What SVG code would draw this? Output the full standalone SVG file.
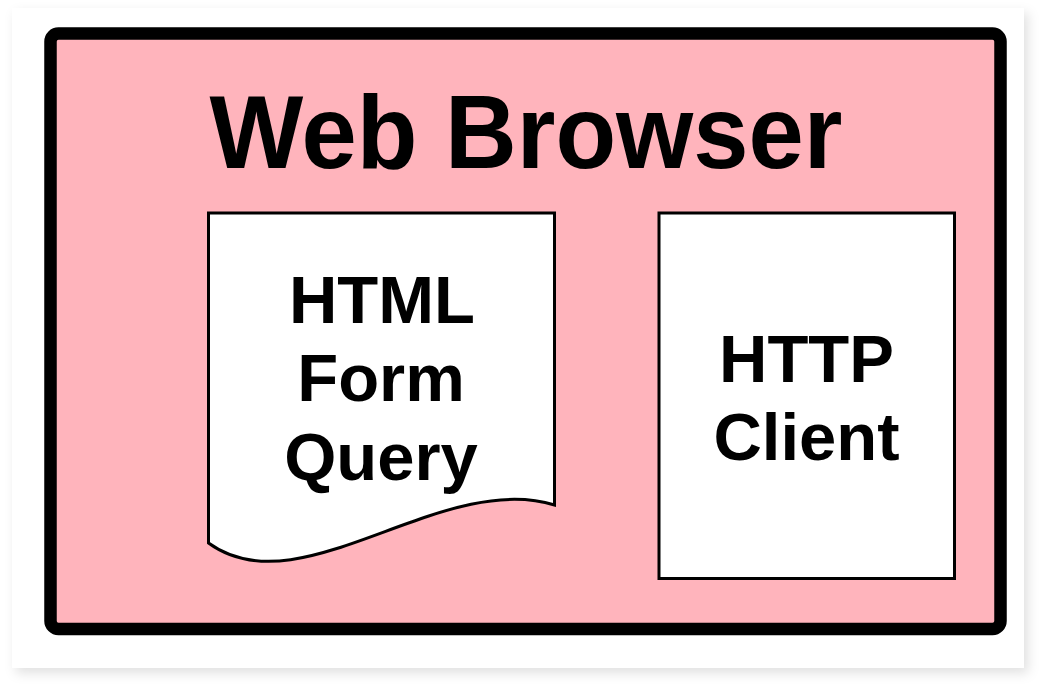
<svg xmlns="http://www.w3.org/2000/svg" width="1050" height="696" viewBox="0 0 1050 696">
  <defs>
    <filter id="shadow" x="-5%" y="-5%" width="110%" height="110%">
      <feDropShadow dx="4" dy="5" stdDeviation="6" flood-color="#000" flood-opacity="0.12"/>
    </filter>
    <style>
      .lbl { font-family: "Liberation Sans", Arial, Helvetica, sans-serif; font-weight: bold; fill: #000; text-anchor: middle; }
      .node-text { font-size: 67px; }
      .node { fill: #fff; stroke: #000; stroke-width: 3; }
    </style>
  </defs>
  <rect x="0" y="0" width="1050" height="696" fill="#fff"/>
  <rect x="12" y="8" width="1012" height="660" fill="#fff" filter="url(#shadow)"/>
  <g id="web-browser">
    <rect x="50.5" y="33.5" width="950" height="595.5" rx="8" ry="8" fill="#FFB4BC" stroke="#000" stroke-width="12.5"/>
    <text class="lbl" x="526" y="168" font-size="104" textLength="633" lengthAdjust="spacingAndGlyphs">Web Browser</text>
  </g>
  <g id="html-form-query">
    <path class="node" d="M208.5,213 L554.5,213 L554.5,505 C440,470 300,610 208.5,543 Z"/>
    <text class="lbl node-text" x="382" y="322.7">HTML</text>
    <text class="lbl node-text" x="381" y="401">Form</text>
    <text class="lbl node-text" x="381" y="479.5">Query</text>
  </g>
  <g id="http-client">
    <rect class="node" x="659" y="213" width="295.5" height="365.5"/>
    <text class="lbl node-text" x="806.5" y="381.5">HTTP</text>
    <text class="lbl node-text" x="806.5" y="459.5">Client</text>
  </g>
  <g id="connectors"/>
</svg>
